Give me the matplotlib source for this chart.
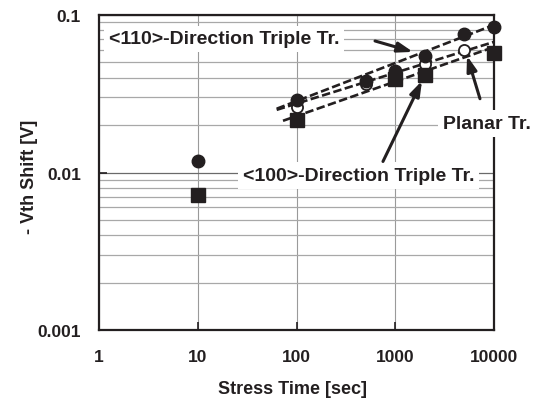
import matplotlib
matplotlib.use("Agg")
import matplotlib.pyplot as plt
from matplotlib.ticker import LogLocator, NullFormatter, FixedLocator

plt.rcParams['font.family'] = ['Liberation Sans', 'DejaVu Sans']
plt.rcParams['font.weight'] = 'bold'
plt.rcParams['axes.labelweight'] = 'bold'

# ---- data ----
x_filled = [10, 100, 500, 1000, 2000, 5000, 10000]
y_filled = [0.0118, 0.0287, 0.038, 0.0444, 0.0552, 0.0758, 0.0835]

x_open = [100, 500, 1000, 2000, 5000]
y_open = [0.026, 0.0366, 0.041, 0.049, 0.060]

x_square = [10, 100, 1000, 2000, 10000]
y_square = [0.0072, 0.0216, 0.039, 0.0413, 0.0573]

fit_x_filled = [63, 10000]
fit_y_filled = [0.0254, 0.0865]
fit_x_open = [63, 10000]
fit_y_open = [0.0250, 0.0675]
fit_x_square = [73, 10000]
fit_y_square = [0.0213, 0.0626]

x_ticks = [1, 10, 100, 1000, 10000]
x_tick_labels = ['1', '10', '100', '1000', '10000']
y_ticks = [0.001, 0.01, 0.1]
y_tick_labels = ['0.001', '0.01', '0.1']

dark = '#231f20'

fig = plt.figure(figsize=(5.34, 4.06), dpi=100)
ax = fig.add_axes([0.1854, 0.1847, 0.7397, 0.7759])
ax.set_xscale('log')
ax.set_yscale('log')
ax.set_xlim(1, 10000)
ax.set_ylim(0.001, 0.1)

# grid
ax.set_xticks(x_ticks)
ax.set_xticklabels(x_tick_labels)
ax.set_yticks(y_ticks)
ax.set_yticklabels(y_tick_labels)
ax.xaxis.set_minor_locator(FixedLocator([]))
ax.yaxis.set_minor_locator(LogLocator(base=10, subs=range(2, 10)))
ax.yaxis.set_minor_formatter(NullFormatter())
ax.grid(True, which='major', axis='x', color='#9a9a9a', lw=0.8)
ax.grid(True, which='major', axis='y', color='#6a6a6a', lw=0.9)
ax.grid(True, which='minor', axis='y', color='#a8a8a8', lw=0.9)
ax.tick_params(axis='both', which='major', direction='in', length=6, width=1.2,
               color=dark, labelsize=12.5, labelcolor=dark)
ax.tick_params(axis='y', which='minor', length=0)
ax.tick_params(axis='x', which='major', pad=14)
ax.tick_params(axis='y', which='major', pad=13)
ax.set_axisbelow(True)
for s in ax.spines.values():
    s.set_linewidth(1.6)
    s.set_color(dark)
    s.set_zorder(2.5)

# fit lines
ls = (0, (3.2, 1.3))
ax.plot(fit_x_filled, fit_y_filled, color=dark, lw=1.9, ls=ls, zorder=3)
ax.plot(fit_x_open, fit_y_open, color=dark, lw=1.9, ls=ls, zorder=3)
ax.plot(fit_x_square, fit_y_square, color=dark, lw=1.9, ls=ls, zorder=3)

# markers
ax.plot(x_open, y_open, 'o', ms=8, mfc='white', mec=dark, mew=1.3, ls='none',
        zorder=4, clip_on=False)
ax.plot(x_square, y_square, 's', ms=10.5, color=dark, ls='none', zorder=5, clip_on=False)
ax.plot(x_filled, y_filled, 'o', ms=9, color=dark, ls='none', zorder=6, clip_on=False)

# annotations
bbox = dict(boxstyle='square,pad=0.25', fc='white', ec='none')
arrow = dict(arrowstyle='-|>,head_length=0.9,head_width=0.3', color=dark, lw=2.2,
             shrinkA=0, shrinkB=0)
ax.text(1.26, 0.0705, '<110>-Direction Triple Tr.', ha='left', va='center',
        fontsize=14, color=dark, bbox=bbox, zorder=7)
ax.annotate('', xy=(1513, 0.0583), xytext=(624, 0.0684), arrowprops=arrow, zorder=8)

ax.text(3045, 0.0204, 'Planar Tr.', ha='left', va='center', fontsize=14,
        color=dark, bbox=bbox, zorder=7, clip_on=False)
ax.annotate('', xy=(5330, 0.0551), xytext=(7211, 0.0294), arrowprops=arrow, zorder=8)

ax.text(28.7, 0.00957, '<100>-Direction Triple Tr.', ha='left', va='center',
        fontsize=14, color=dark, bbox=bbox, zorder=7)
ax.annotate('', xy=(1866, 0.0382), xytext=(751, 0.01175), arrowprops=arrow, zorder=8)

ax.set_xlabel('Stress Time [sec]', fontsize=13, color=dark, fontweight='bold')
ax.set_ylabel('- Vth Shift [V]', fontsize=13, color=dark, fontweight='bold')
ax.xaxis.set_label_coords(0.49, -0.187)
ax.xaxis.label.set_va('center')
ax.yaxis.set_label_coords(-0.175, 0.49)
ax.yaxis.label.set_va('center')

fig.savefig('out.png', dpi=100)
